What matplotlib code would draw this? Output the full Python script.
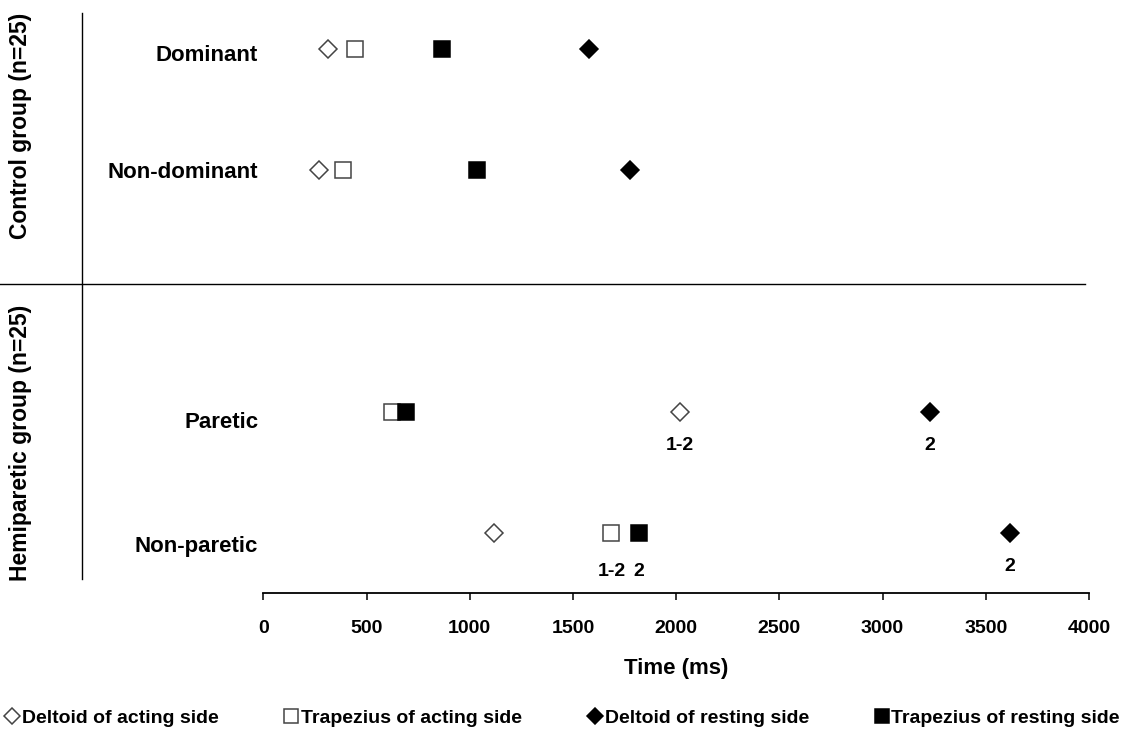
import numpy as np
import matplotlib
matplotlib.use('Agg')
import matplotlib.pyplot as plt
from matplotlib.lines import Line2D

plt.rcParams['font.family'] = ['Liberation Sans', 'DejaVu Sans']
plt.rcParams['font.weight'] = 'bold'

# rows: Dominant, Non-dominant, (gap), Paretic, Non-paretic
row_names = ['Dominant', 'Non-dominant', 'Paretic', 'Non-paretic']
row_pos = [0, 1, 3, 4]
label_pos = [0.06, 1.02, 3.09, 4.11]

# onset times (ms) per row
deltoid_acting = [312, 270, 2019, 1118]
trapezius_acting = [443, 385, 622, 1686]
deltoid_resting = [1577, 1777, 3230, 3618]
trapezius_resting = [867, 1034, 691, 1820]

# significance notes: (series, row index, text, offset in points)
notes = [
    ('deltoid_acting', 2, '1-2', 24),
    ('deltoid_resting', 2, '2', 24),
    ('trapezius_acting', 3, '1-2', 28),
    ('trapezius_resting', 3, '2', 28),
    ('deltoid_resting', 3, '2', 24),
]

groups = ['Control group (n=25)', 'Hemiparetic group (n=25)']
xticks = [0, 500, 1000, 1500, 2000, 2500, 3000, 3500, 4000]

W, H = 1125, 731
fig = plt.figure(figsize=(W / 100, H / 100), dpi=100)
ax = fig.add_axes([263.3 / W, (H - 593.3) / H, (1089 - 263.3) / W, 593.3 / H])

series = {
    'deltoid_acting': dict(x=deltoid_acting, marker='D', ms=9, mfc='white', mec='#444444',
                           label='Deltoid of acting side'),
    'trapezius_acting': dict(x=trapezius_acting, marker='s', ms=11.5, mfc='white', mec='#444444',
                             label='Trapezius of acting side'),
    'deltoid_resting': dict(x=deltoid_resting, marker='D', ms=9, mfc='black', mec='black',
                            label='Deltoid of resting side'),
    'trapezius_resting': dict(x=trapezius_resting, marker='s', ms=11.5, mfc='black', mec='black',
                              label='Trapezius of resting side'),
}

handles = {}
for key, s in series.items():
    h, = ax.plot(s['x'], row_pos, linestyle='none', marker=s['marker'], ms=s['ms'],
                 mfc=s['mfc'], mec=s['mec'], mew=1.1, label=s['label'], clip_on=False)
    handles[key] = h

for key, i, txt, off in notes:
    ax.annotate(txt, (series[key]['x'][i], row_pos[i]), xytext=(0, -off),
                textcoords='offset points', ha='center', va='center',
                fontsize=14, fontweight='bold')

for name, y in zip(row_names, label_pos):
    ax.text(-25, y, name, ha='right', va='center', fontsize=16, fontweight='bold')

ax.set_xlim(0, 4000)
ax.set_ylim(4.5, -0.4025)
ax.set_xticks(xticks)
ax.set_xticklabels([str(t) for t in xticks], fontsize=14, fontweight='bold')
ax.set_yticks([])
for side in ['top', 'right', 'left']:
    ax.spines[side].set_visible(False)
ax.spines['bottom'].set_linewidth(1.3)
ax.tick_params(axis='x', direction='out', length=5, width=1.1, pad=14)
ax.set_xlabel('Time (ms)', fontsize=16, fontweight='bold', labelpad=15)
ax.patch.set_visible(False)

# group divider lines
fig.add_artist(Line2D([0, 1085 / W], [1 - 284 / H] * 2, color='black', lw=1))
fig.add_artist(Line2D([81.5 / W] * 2, [1 - 13 / H, 1 - 579 / H], color='black', lw=1))

fig.text(21 / W, 1 - 126 / H, groups[0], rotation=90, ha='center', va='center',
         fontsize=16.5, fontweight='bold')
fig.text(21 / W, 1 - 443 / H, groups[1], rotation=90, ha='center', va='center',
         fontsize=16.5, fontweight='bold')

order = ['deltoid_acting', 'trapezius_acting', 'deltoid_resting', 'trapezius_resting']
fig.legend([handles[k] for k in order], [series[k]['label'] for k in order],
           loc='center', bbox_to_anchor=(0.5, 1 - 718 / H), ncol=4, frameon=False,
           fontsize=14, handlelength=0.7, handletextpad=0.15, columnspacing=3.4,
           markerscale=0.85, borderaxespad=0)

fig.savefig('out.png', dpi=100)
